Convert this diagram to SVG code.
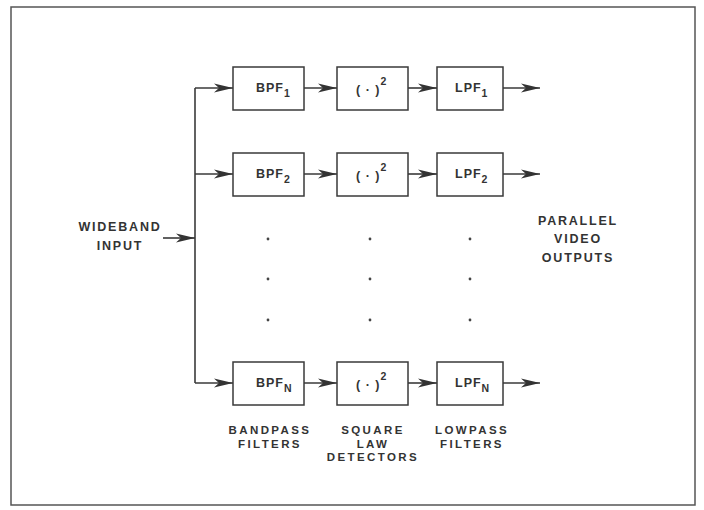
<svg xmlns="http://www.w3.org/2000/svg" width="704" height="510" viewBox="0 0 704 510">
<style>
.box{fill:#fff;stroke:#3a3a3a;stroke-width:1.5}
.ln{fill:none;stroke:#3a3a3a;stroke-width:1.6}
.t{font-family:"Liberation Sans",Arial,sans-serif;font-weight:bold;font-size:12.5px;fill:#333;letter-spacing:1.8px;text-anchor:middle}
.c{font-size:11.5px;letter-spacing:2.4px}
.b{font-family:"Liberation Sans",Arial,sans-serif;font-weight:bold;font-size:12.5px;fill:#333;letter-spacing:1px}
.s{font-size:10.5px}
.dot{fill:#444}
</style>
<defs>
<marker id="ah" markerUnits="userSpaceOnUse" markerWidth="22" markerHeight="12" refX="19" refY="5" orient="auto">
<path d="M0,0.5 L19,5 L0,9.5 L5,5 Z" fill="#333"/>
</marker>
</defs>
<rect x="11" y="7" width="684" height="498" fill="none" stroke="#555" stroke-width="1.5"/>
<g id="connectors">
<path class="ln" d="M163,238 H195" marker-end="url(#ah)"/>
<path class="ln" d="M195,88 V383"/>
<path class="ln" d="M195,88 H233" marker-end="url(#ah)"/>
<path class="ln" d="M195,174 H233" marker-end="url(#ah)"/>
<path class="ln" d="M195,383 H233" marker-end="url(#ah)"/>
<path class="ln" d="M304,88 H337" marker-end="url(#ah)"/>
<path class="ln" d="M304,174 H337" marker-end="url(#ah)"/>
<path class="ln" d="M304,383 H337" marker-end="url(#ah)"/>
<path class="ln" d="M408,88 H437" marker-end="url(#ah)"/>
<path class="ln" d="M408,174 H437" marker-end="url(#ah)"/>
<path class="ln" d="M408,383 H437" marker-end="url(#ah)"/>
<path class="ln" d="M503,88 H540" marker-end="url(#ah)"/>
<path class="ln" d="M503,174 H540" marker-end="url(#ah)"/>
<path class="ln" d="M503,383 H540" marker-end="url(#ah)"/>
</g>
<g id="bpf1"><rect class="box" x="233" y="67" width="71" height="43"/><text class="b" x="256" y="92">BPF<tspan class="s" dy="5">1</tspan></text></g>
<g id="sq1"><rect class="box" x="337" y="67" width="71" height="43"/><text class="b" x="356" y="94">( · )<tspan class="s" dy="-9">2</tspan></text></g>
<g id="lpf1"><rect class="box" x="437" y="67" width="66" height="43"/><text class="b" x="455" y="92">LPF<tspan class="s" dy="5">1</tspan></text></g>
<g id="bpf2"><rect class="box" x="233" y="153" width="71" height="43"/><text class="b" x="256" y="178">BPF<tspan class="s" dy="5">2</tspan></text></g>
<g id="sq2"><rect class="box" x="337" y="153" width="71" height="43"/><text class="b" x="356" y="180">( · )<tspan class="s" dy="-9">2</tspan></text></g>
<g id="lpf2"><rect class="box" x="437" y="153" width="66" height="43"/><text class="b" x="455" y="178">LPF<tspan class="s" dy="5">2</tspan></text></g>
<g id="bpfn"><rect class="box" x="233" y="362" width="71" height="43"/><text class="b" x="256" y="387">BPF<tspan class="s" dy="5">N</tspan></text></g>
<g id="sqn"><rect class="box" x="337" y="362" width="71" height="43"/><text class="b" x="356" y="389">( · )<tspan class="s" dy="-9">2</tspan></text></g>
<g id="lpfn"><rect class="box" x="437" y="362" width="66" height="43"/><text class="b" x="455" y="387">LPF<tspan class="s" dy="5">N</tspan></text></g>
<g id="dots">
<circle class="dot" cx="268" cy="239" r="1.4"/><circle class="dot" cx="370" cy="239" r="1.4"/><circle class="dot" cx="470" cy="239" r="1.4"/>
<circle class="dot" cx="268" cy="279" r="1.4"/><circle class="dot" cx="370" cy="279" r="1.4"/><circle class="dot" cx="470" cy="279" r="1.4"/>
<circle class="dot" cx="268" cy="320" r="1.4"/><circle class="dot" cx="370" cy="320" r="1.4"/><circle class="dot" cx="470" cy="320" r="1.4"/>
</g>
<g id="input-label"><text class="t" x="120" y="231">WIDEBAND</text><text class="t" x="120" y="250">INPUT</text></g>
<g id="output-label"><text class="t" x="578" y="225">PARALLEL</text><text class="t" x="578" y="243">VIDEO</text><text class="t" x="578" y="262">OUTPUTS</text></g>
<g id="col-labels">
<text class="t c" x="270" y="434">BANDPASS</text><text class="t c" x="270" y="447.5">FILTERS</text>
<text class="t c" x="373" y="434">SQUARE</text><text class="t c" x="373" y="447.5">LAW</text><text class="t c" x="373" y="461">DETECTORS</text>
<text class="t c" x="472" y="434">LOWPASS</text><text class="t c" x="472" y="447.5">FILTERS</text>
</g>
</svg>
